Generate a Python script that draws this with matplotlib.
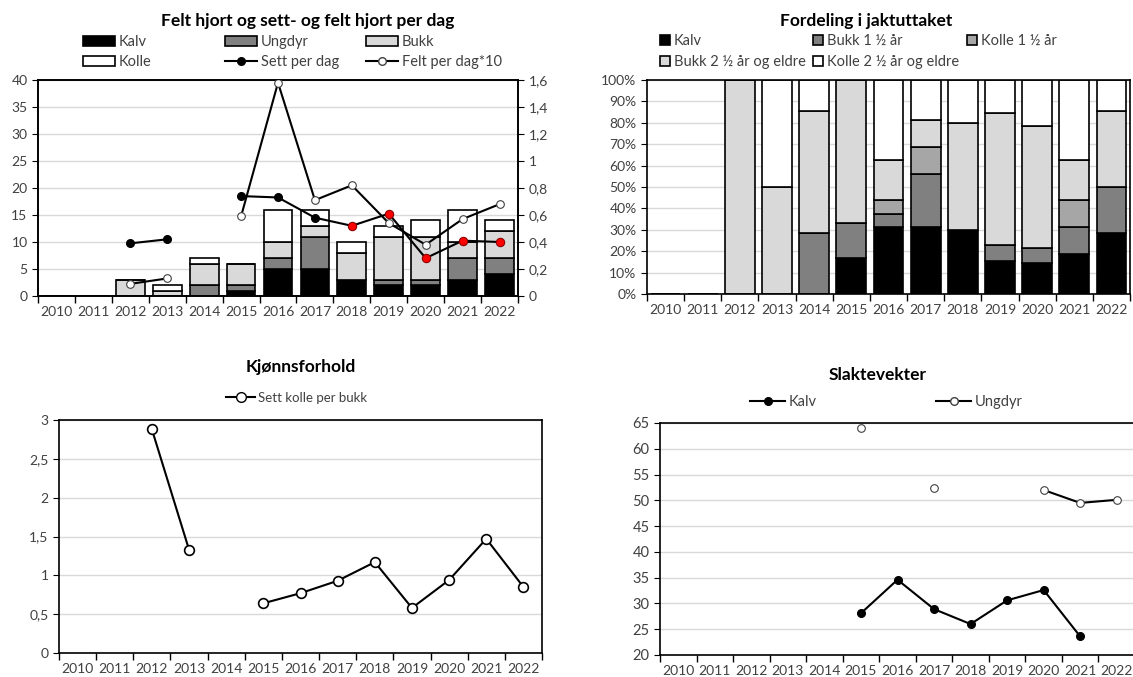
import numpy as np
import matplotlib
matplotlib.use('Agg')
import matplotlib.pyplot as plt
from matplotlib.patches import Patch
from matplotlib.lines import Line2D
from matplotlib.ticker import FuncFormatter, MultipleLocator

plt.rcParams['font.family'] = ['Lato', 'DejaVu Sans']

nan = np.nan
years = ['2010', '2011', '2012', '2013', '2014', '2015', '2016',
         '2017', '2018', '2019', '2020', '2021', '2022']

# Felt hjort (antall)
felt_kalv = [0, 0, 0, 0, 0, 1, 5, 5, 3, 2, 2, 3, 4]
felt_ungdyr = [0, 0, 0, 0, 2, 1, 2, 6, 0, 1, 1, 4, 3]
felt_bukk = [0, 0, 3, 1, 4, 4, 3, 2, 5, 8, 8, 3, 5]
felt_kolle = [0, 0, 0, 1, 1, 0, 6, 3, 2, 2, 3, 6, 2]
sett_per_dag = [nan, nan, 0.39, 0.42, nan, 0.74, 0.73, 0.58, 0.52, 0.61, 0.28, 0.41, 0.40]
felt_per_dag10 = [nan, nan, 0.09, 0.13, nan, 0.59, 1.58, 0.71, 0.82, 0.54, 0.38, 0.57, 0.68]
red_from = 8  # 2018 og senere har rode markorer

# Fordeling i jaktuttaket (prosent)
pct_kalv = [0, 0, 0, 0, 0, 16.7, 31.3, 31.3, 30.0, 15.4, 14.3, 18.8, 28.6]
pct_bukk1 = [0, 0, 0, 0, 28.6, 16.7, 6.2, 25.0, 0, 7.7, 7.1, 12.5, 21.4]
pct_kolle1 = [0, 0, 0, 0, 0, 0, 6.2, 12.5, 0, 0, 0, 12.5, 0]
pct_bukk2 = [0, 0, 100, 50, 57.1, 66.6, 18.8, 12.5, 50.0, 61.5, 57.2, 18.7, 35.7]
pct_kolle2 = [0, 0, 0, 50, 14.3, 0, 37.5, 18.7, 20.0, 15.4, 21.4, 37.5, 14.3]

# Kjonnsforhold
kolle_per_bukk = [nan, nan, 2.88, 1.33, nan, 0.64, 0.77, 0.93, 1.17, 0.58, 0.94, 1.47, 0.85]

# Slaktevekter
vekt_kalv = [nan, nan, nan, nan, nan, 28.1, 34.6, 28.9, 26.0, 30.6, 32.6, 23.6, nan]
vekt_ungdyr = [nan, nan, nan, nan, nan, 64.1, nan, 52.3, nan, nan, 52.0, 49.5, 50.1]

W, H = 1133, 677
fig = plt.figure(figsize=(W / 100, H / 100), dpi=100)
TXT = '#404040'
GRID = '#d9d9d9'


def px_axes(l, t, r, b):
    return fig.add_axes([l / W, 1 - b / H, (r - l) / W, (b - t) / H])


def comma(v, pos):
    s = f'{v:.1f}'.rstrip('0').rstrip('.')
    return s.replace('.', ',')


def style_axes(ax, xsize=10, ysize=10):
    x = np.arange(len(years))
    ax.set_xlim(-0.5, len(years) - 0.5)
    ax.set_xticks(x)
    ax.set_xticklabels(years)
    ax.set_xticks(np.arange(-0.5, len(years), 1), minor=True)
    ax.tick_params(axis='x', which='major', length=0, labelsize=xsize, colors=TXT, pad=7)
    ax.tick_params(axis='x', which='minor', length=5, width=1, color='black')
    ax.tick_params(axis='y', length=4, labelsize=ysize, colors='black', labelcolor=TXT)
    ax.yaxis.grid(True, color=GRID, lw=1)
    ax.set_axisbelow(True)
    for s in ax.spines.values():
        s.set_color('black')
        s.set_linewidth(1.2)


def leg(handles, labels, x, y, hl=2.2, size=10.5):
    fig.legend(handles, labels, loc='center left', bbox_to_anchor=(x / W, 1 - y / H),
               frameon=False, borderpad=0, borderaxespad=0, handlelength=hl,
               handletextpad=0.25, fontsize=size, labelcolor=TXT)


x = np.arange(len(years))

# ---------- Felt hjort og sett- og felt hjort per dag ----------
ax1 = px_axes(38, 80, 518, 296)
style_axes(ax1)
bw = 0.78
bottom = np.zeros(len(years))
for vals, col in [(felt_kalv, 'black'), (felt_ungdyr, '#808080'),
                  (felt_bukk, '#d9d9d9'), (felt_kolle, 'white')]:
    ax1.bar(x, vals, bw, bottom=bottom, color=col, edgecolor='black', lw=1.2, zorder=2)
    bottom += np.array(vals)
ax1.set_ylim(0, 40)
ax1.yaxis.set_major_locator(MultipleLocator(5))

ax1b = ax1.twinx()
ax1b.set_ylim(0, 1.6)
ax1b.yaxis.set_major_locator(MultipleLocator(0.2))
ax1b.yaxis.set_major_formatter(FuncFormatter(comma))
ax1b.tick_params(axis='y', length=4, labelsize=10, colors='black', labelcolor=TXT)
for s in ax1b.spines.values():
    s.set_color('black')
    s.set_linewidth(1.2)
ax1b.plot(x, sett_per_dag, color='black', lw=1.5, zorder=3)
ax1b.plot(x[:red_from], sett_per_dag[:red_from], ls='none', marker='o', ms=5.5,
          mfc='black', mec='black', zorder=4)
ax1b.plot(x[red_from:], sett_per_dag[red_from:], ls='none', marker='o', ms=6,
          mfc='#ff0000', mec='#8b0000', mew=0.8, zorder=4)
ax1b.plot(x, felt_per_dag10, color='black', lw=1.5, marker='o', ms=5.5,
          mfc='white', mec='#404040', mew=0.8, zorder=3)

fig.text(308 / W, 1 - 21 / H, 'Felt hjort og sett- og felt hjort per dag', ha='center',
         va='center', fontsize=12.5, fontweight='bold')
pk = dict(edgecolor='black', lw=1.2)
leg([Patch(facecolor='black', **pk)], ['Kalv'], 83, 42)
leg([Patch(facecolor='white', **pk)], ['Kolle'], 83, 62)
leg([Patch(facecolor='#808080', **pk)], ['Ungdyr'], 225, 42)
leg([Line2D([], [], color='black', lw=1.5, marker='o', ms=5.5, mfc='black')],
    ['Sett per dag'], 225, 62)
leg([Patch(facecolor='#d9d9d9', **pk)], ['Bukk'], 366, 42)
leg([Line2D([], [], color='black', lw=1.5, marker='o', ms=5.5, mfc='white', mec='#404040')],
    ['Felt per dag*10'], 366, 62)

# ---------- Fordeling i jaktuttaket ----------
ax2 = px_axes(647, 80, 1130, 294)
style_axes(ax2)
bw2 = 0.8
bottom = np.zeros(len(years))
for vals, col in [(pct_kalv, 'black'), (pct_bukk1, '#808080'), (pct_kolle1, '#a6a6a6'),
                  (pct_bukk2, '#d9d9d9'), (pct_kolle2, 'white')]:
    ax2.bar(x, vals, bw2, bottom=bottom, color=col, edgecolor='black', lw=1.2, zorder=2)
    bottom += np.array(vals)
ax2.set_ylim(0, 100)
ax2.yaxis.set_major_locator(MultipleLocator(10))
ax2.yaxis.set_major_formatter(FuncFormatter(lambda v, p: f'{v:.0f}%'))
fig.text(866 / W, 1 - 21 / H, 'Fordeling i jaktuttaket', ha='center', va='center',
         fontsize=12.5, fontweight='bold')
leg([Patch(facecolor='black', **pk)], ['Kalv'], 660, 41, hl=0.7)
leg([Patch(facecolor='#808080', **pk)], ['Bukk 1 ½ år'], 813, 41, hl=0.7)
leg([Patch(facecolor='#a6a6a6', **pk)], ['Kolle 1 ½ år'], 967, 41, hl=0.7)
leg([Patch(facecolor='#d9d9d9', **pk)], ['Bukk 2 ½ år og eldre'], 660, 62, hl=0.7)
leg([Patch(facecolor='white', **pk)], ['Kolle 2 ½ år og eldre'], 813, 62, hl=0.7)

# ---------- Kjonnsforhold ----------
ax3 = px_axes(59, 420, 542, 653)
style_axes(ax3)
ax3.plot(x, kolle_per_bukk, color='black', lw=1.5, marker='o', ms=7,
         mfc='white', mec='black', mew=1.2, zorder=3)
ax3.set_ylim(0, 3)
ax3.yaxis.set_major_locator(MultipleLocator(0.5))
ax3.yaxis.set_major_formatter(FuncFormatter(comma))
fig.text(301 / W, 1 - 367 / H, 'Kjønnsforhold', ha='center', va='center',
         fontsize=12.5, fontweight='bold')
leg([Line2D([], [], color='black', lw=1.5, marker='o', ms=7, mfc='white', mec='black')],
    ['Sett kolle per bukk'], 226, 398, size=9.5)

# ---------- Slaktevekter ----------
ax4 = px_axes(660, 423, 1135, 655)
style_axes(ax4, ysize=10.5)
ax4.plot(x, vekt_kalv, color='black', lw=1.5, marker='o', ms=5.5,
         mfc='black', mec='black', zorder=3)
ax4.plot(x, vekt_ungdyr, color='black', lw=1.5, marker='o', ms=5.5,
         mfc='white', mec='#404040', mew=0.8, zorder=3)
ax4.set_ylim(20, 65)
ax4.yaxis.set_major_locator(MultipleLocator(5))
fig.text(878 / W, 1 - 375 / H, 'Slaktevekter', ha='center', va='center',
         fontsize=12.5, fontweight='bold')
leg([Line2D([], [], color='black', lw=1.5, marker='o', ms=5.5, mfc='black')],
    ['Kalv'], 750, 402, hl=2.4)
leg([Line2D([], [], color='black', lw=1.5, marker='o', ms=5.5, mfc='white', mec='#404040')],
    ['Ungdyr'], 936, 402, hl=2.4)

fig.savefig('out.png', dpi=100)
